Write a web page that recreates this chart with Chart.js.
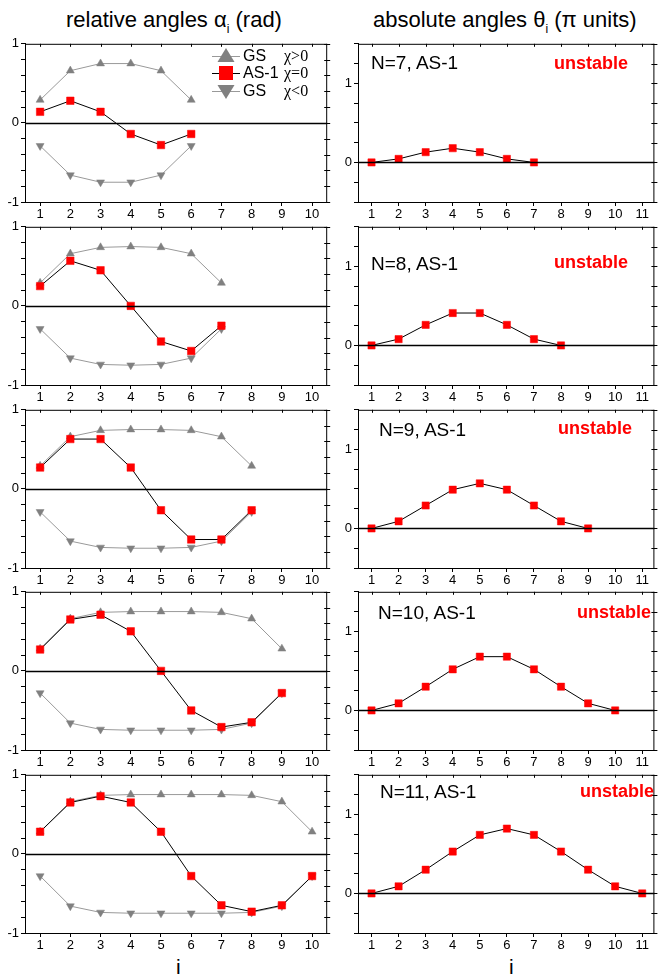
<!DOCTYPE html>
<html>
<head>
<meta charset="utf-8">
<script src="https://cdn.jsdelivr.net/npm/chart.js@4.4.0/dist/chart.umd.min.js"></script>
<style>
  body { margin: 0; background: #fff; font-family: "Liberation Sans", Arial, sans-serif; }
  #wrap { position: relative; width: 660px; height: 979px; overflow: hidden; }
  canvas { position: absolute; }
  .txt { position: absolute; white-space: nowrap; color: #000; line-height: 1; }
  .title { font-size: 22px; }
  .title sub { font-size: 12px; vertical-align: -6px; }
  .nlab { font-size: 19px; }
  .unst { font-size: 18px; font-weight: bold; color: #f00; }
  .ilab { font-size: 21px; }
</style>
</head>
<body>
<div id="wrap">
  <div class="txt title" style="left:66px; top:9px;">relative angles &alpha;<sub>i</sub> (rad)</div>
  <div class="txt title" style="left:373px; top:9px;">absolute angles &theta;<sub>i</sub> (&pi; units)</div>
  <div class="txt ilab" style="left:176px; top:956px;">i</div>
  <div class="txt ilab" style="left:509px; top:956px;">i</div>
</div>
<script>
// chain sizes and tick labels
const chainN = [7, 8, 9, 10, 11];
const xLeft = [1, 2, 3, 4, 5, 6, 7, 8, 9, 10];
const xRight = [1, 2, 3, 4, 5, 6, 7, 8, 9, 10, 11];
const yLeftTicks = [-1, -0.8, -0.6, -0.4, -0.2, 0, 0.2, 0.4, 0.6, 0.8, 1];
const yRightTicks = [-0.5, -0.25, 0, 0.25, 0.5, 0.75, 1, 1.25, 1.5];

// relative angles (rad), GS chi>0
const gsUp7 = [0.29, 0.66, 0.75, 0.75, 0.66, 0.29];
const gsUp8 = [0.29, 0.66, 0.74, 0.75, 0.74, 0.66, 0.29];
const gsUp9 = [0.29, 0.66, 0.74, 0.75, 0.75, 0.74, 0.66, 0.29];
const gsUp10 = [0.28, 0.66, 0.74, 0.75, 0.75, 0.75, 0.74, 0.66, 0.28];
const gsUp11 = [0.28, 0.66, 0.74, 0.75, 0.75, 0.75, 0.75, 0.74, 0.66, 0.28];

// relative angles (rad), GS chi<0
const gsDown7 = [-0.29, -0.66, -0.75, -0.75, -0.66, -0.29];
const gsDown8 = [-0.29, -0.66, -0.74, -0.75, -0.74, -0.66, -0.29];
const gsDown9 = [-0.29, -0.66, -0.74, -0.75, -0.75, -0.74, -0.66, -0.29];
const gsDown10 = [-0.28, -0.66, -0.74, -0.75, -0.75, -0.75, -0.74, -0.66, -0.28];
const gsDown11 = [-0.28, -0.66, -0.74, -0.75, -0.75, -0.75, -0.75, -0.74, -0.66, -0.28];

// relative angles (rad), AS-1 chi=0
const as7 = [0.14, 0.28, 0.14, -0.14, -0.28, -0.14];
const as8 = [0.25, 0.57, 0.45, 0, -0.45, -0.57, -0.25];
const as9 = [0.27, 0.63, 0.63, 0.27, -0.27, -0.64, -0.64, -0.27];
const as10 = [0.27, 0.65, 0.71, 0.50, 0, -0.50, -0.71, -0.65, -0.28];
const as11 = [0.28, 0.65, 0.73, 0.65, 0.28, -0.28, -0.65, -0.73, -0.65, -0.28];

// absolute angles (pi units), AS-1
const abs7 = [0, 0.045, 0.13, 0.18, 0.13, 0.045, 0];
const abs8 = [0, 0.08, 0.26, 0.41, 0.41, 0.26, 0.08, 0];
const abs9 = [0, 0.09, 0.29, 0.49, 0.57, 0.49, 0.29, 0.09, 0];
const abs10 = [0, 0.09, 0.30, 0.52, 0.68, 0.68, 0.52, 0.30, 0.09, 0];
const abs11 = [0, 0.09, 0.30, 0.53, 0.74, 0.82, 0.74, 0.53, 0.30, 0.09, 0];

const gsUp = [gsUp7, gsUp8, gsUp9, gsUp10, gsUp11];
const gsDown = [gsDown7, gsDown8, gsDown9, gsDown10, gsDown11];
const asRel = [as7, as8, as9, as10, as11];
const asAbs = [abs7, abs8, abs9, abs10, abs11];

// layout
const panelTop = [40, 223, 406, 588, 771];
const plotH = 162;
const padTop = 6, axisH = 22;
const nLabelPos = [[371, 63], [371, 264], [379, 430], [378, 613], [380, 792]];
const unstPos = [[628, 64], [628, 263], [632, 429], [651, 613], [654, 792]];

const wrap = document.getElementById('wrap');
const toXY = arr => arr.map((v, i) => ({ x: i + 1, y: v }));

// frame, zero line and mirrored ticks
const framePlugin = {
  id: 'frame',
  afterDraw(chart) {
    const { ctx, chartArea: a, scales } = chart;
    ctx.save();
    ctx.strokeStyle = '#000';
    ctx.lineWidth = 1;
    ctx.beginPath();
    ctx.moveTo(a.left, a.top + 0.5); ctx.lineTo(a.right, a.top + 0.5);
    ctx.moveTo(a.right - 0.5, a.top); ctx.lineTo(a.right - 0.5, a.bottom);
    scales.y.ticks.forEach(t => {
      const y = Math.round(scales.y.getPixelForValue(t.value)) + 0.5;
      ctx.moveTo(a.right - 3, y); ctx.lineTo(a.right + 3, y);
    });
    scales.x.ticks.forEach(t => {
      const x = Math.round(scales.x.getPixelForValue(t.value)) + 0.5;
      ctx.moveTo(x, a.top); ctx.lineTo(x, a.top + 3);
    });
    ctx.stroke();
    // zero line
    ctx.lineWidth = 1.4;
    ctx.beginPath();
    const y0 = Math.round(scales.y.getPixelForValue(0)) + 0.5;
    ctx.moveTo(a.left, y0); ctx.lineTo(a.right, y0);
    ctx.stroke();
    ctx.restore();
  }
};

// legend for the first relative-angle panel
const legendPlugin = {
  id: 'customLegend',
  afterDraw(chart) {
    const ctx = chart.ctx;
    const rows = [
      { y: 22, kind: 'up', name: 'GS', chi: '\u03C7>0' },
      { y: 39, kind: 'sq', name: 'AS-1', chi: '\u03C7=0' },
      { y: 57, kind: 'down', name: 'GS', chi: '\u03C7<0' }
    ];
    ctx.save();
    ctx.textBaseline = 'middle';
    rows.forEach(r => {
      ctx.strokeStyle = r.kind === 'sq' ? '#000' : '#999';
      ctx.lineWidth = 1;
      ctx.beginPath();
      ctx.moveTo(212, r.y + 0.5); ctx.lineTo(240, r.y + 0.5);
      ctx.stroke();
      const cx = 226;
      if (r.kind === 'sq') {
        ctx.fillStyle = '#f00';
        ctx.fillRect(cx - 7, r.y - 7, 14, 14);
      } else {
        ctx.fillStyle = '#808080';
        const s = r.kind === 'up' ? 1 : -1;
        ctx.beginPath();
        ctx.moveTo(cx, r.y - 8 * s);
        ctx.lineTo(cx - 8.5, r.y + 6 * s);
        ctx.lineTo(cx + 8.5, r.y + 6 * s);
        ctx.closePath();
        ctx.fill();
      }
      ctx.fillStyle = '#000';
      ctx.font = '16px "Liberation Sans", Arial, sans-serif';
      ctx.fillText(r.name, 243, r.y + 1);
      ctx.font = '16px "Liberation Serif", serif';
      ctx.fillText(r.chi, 284, r.y + 1);
    });
    ctx.restore();
  }
};

function makeScales(xTicks, xMin, xMax, yTicks, yMin, yMax, yAxisW) {
  const font = { family: '"Liberation Sans", Arial, sans-serif', size: 13 };
  return {
    x: {
      type: 'linear', min: xMin, max: xMax,
      afterBuildTicks: s => { s.ticks = xTicks.map(v => ({ value: v })); },
      afterFit: s => { s.height = axisH; },
      grid: { drawOnChartArea: false, tickLength: 4, color: '#000' },
      border: { color: '#000', width: 1 },
      ticks: { color: '#000', font, padding: 1, maxRotation: 0, autoSkip: false }
    },
    y: {
      type: 'linear', min: yMin, max: yMax,
      afterBuildTicks: s => { s.ticks = yTicks.map(v => ({ value: v })); },
      afterFit: s => { s.width = yAxisW; },
      grid: { drawOnChartArea: false, tickLength: 4, color: '#000' },
      border: { color: '#000', width: 1 },
      ticks: {
        color: '#000', font, padding: 2, autoSkip: false,
        callback: v => Number.isInteger(v) ? String(v) : ''
      }
    }
  };
}

function addCanvas(left, top, w, h) {
  const c = document.createElement('canvas');
  c.width = w; c.height = h;
  c.style.left = left + 'px'; c.style.top = top + 'px';
  c.style.width = w + 'px'; c.style.height = h + 'px';
  wrap.appendChild(c);
  return c;
}

const baseOpts = {
  responsive: false, animation: false, devicePixelRatio: 1,
  plugins: { legend: { display: false }, tooltip: { enabled: false } }
};

for (let r = 0; r < 5; r++) {
  const top = panelTop[r] - padTop;
  const h = padTop + plotH + axisH;

  // relative angles
  const cl = addCanvas(0, top, 333, h);
  new Chart(cl, {
    type: 'line',
    data: {
      datasets: [
        {
          data: toXY(asRel[r]), order: 0,
          borderColor: '#000', borderWidth: 1,
          pointStyle: 'rect', pointRadius: 5.3,
          pointBackgroundColor: '#f00', pointBorderColor: '#f00', pointBorderWidth: 0.5
        },
        {
          data: toXY(gsUp[r]), order: 1,
          borderColor: '#999', borderWidth: 1,
          pointStyle: 'triangle', pointRadius: 4.6,
          pointBackgroundColor: '#808080', pointBorderColor: '#808080', pointBorderWidth: 0.5
        },
        {
          data: toXY(gsDown[r]), order: 1,
          borderColor: '#999', borderWidth: 1,
          pointStyle: 'triangle', pointRotation: 180, pointRadius: 4.6,
          pointBackgroundColor: '#808080', pointBorderColor: '#808080', pointBorderWidth: 0.5
        }
      ]
    },
    options: Object.assign({}, baseOpts, {
      layout: { padding: { top: padTop, right: 4, left: 0, bottom: 0 } },
      scales: makeScales(xLeft, 0.5, 10.5, yLeftTicks, -1, 1, 25)
    }),
    plugins: r === 0 ? [framePlugin, legendPlugin] : [framePlugin]
  });

  // absolute angles
  const cr = addCanvas(330, top, 330, h);
  new Chart(cr, {
    type: 'line',
    data: {
      datasets: [{
        data: toXY(asAbs[r]),
        borderColor: '#000', borderWidth: 1,
        pointStyle: 'rect', pointRadius: 5.1,
        pointBackgroundColor: '#f00', pointBorderColor: '#f00', pointBorderWidth: 0.5
      }]
    },
    options: Object.assign({}, baseOpts, {
      layout: { padding: { top: padTop, right: 1, left: 0, bottom: 0 } },
      scales: makeScales(xRight, 0.5, 11.45, yRightTicks, -0.5, 1.5, 28)
    }),
    plugins: [framePlugin]
  });

  // panel annotations
  const nl = document.createElement('div');
  nl.className = 'txt nlab';
  nl.textContent = 'N=' + chainN[r] + ', AS-1';
  nl.style.left = nLabelPos[r][0] + 'px';
  nl.style.top = (nLabelPos[r][1] - 10) + 'px';
  wrap.appendChild(nl);

  const un = document.createElement('div');
  un.className = 'txt unst';
  un.textContent = 'unstable';
  un.style.right = (660 - unstPos[r][0]) + 'px';
  un.style.top = (unstPos[r][1] - 10) + 'px';
  wrap.appendChild(un);
}
</script>
</body>
</html>
